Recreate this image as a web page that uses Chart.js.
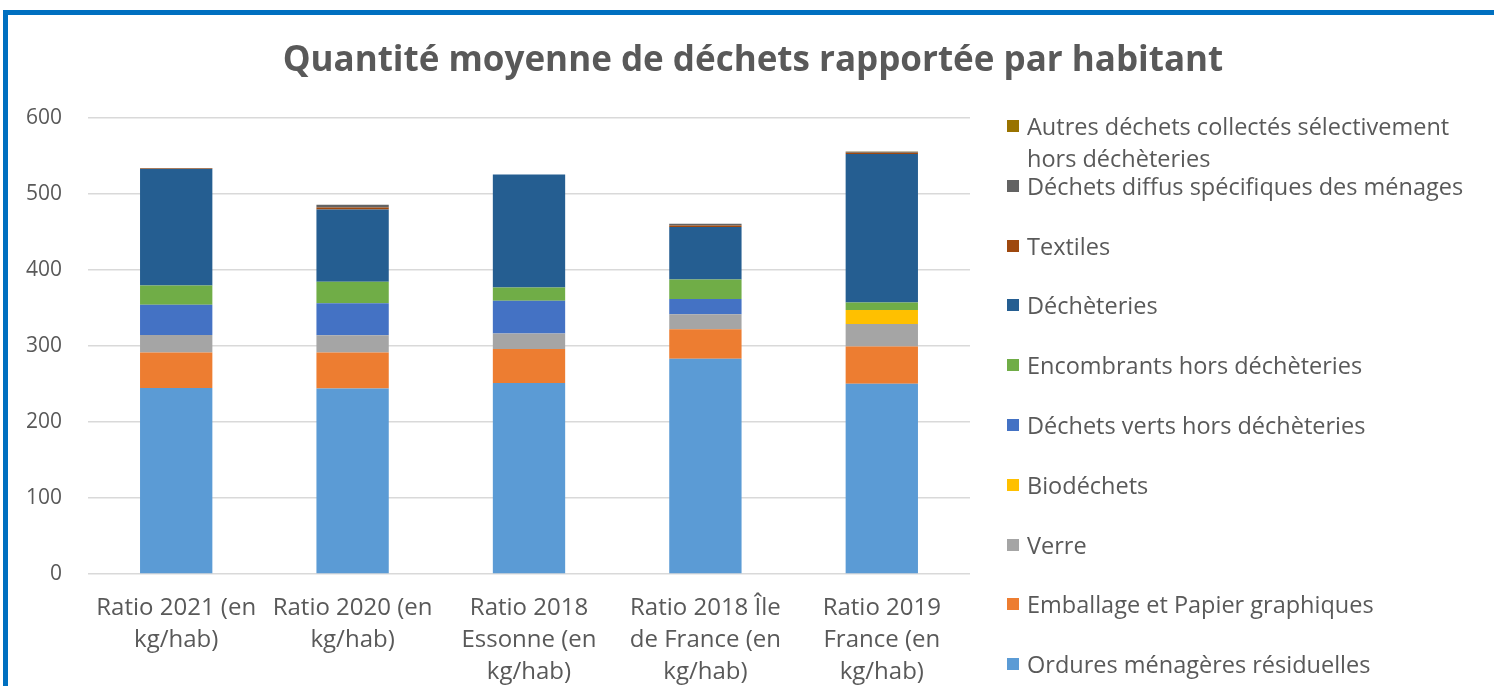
<!DOCTYPE html>
<html>
<head>
<meta charset="utf-8">
<script src="https://cdn.jsdelivr.net/npm/chart.js@4/dist/chart.umd.min.js"></script>
<style>
  html, body { margin:0; padding:0; width:1494px; height:686px; overflow:hidden; background:#fff; }
  #wrap { position:absolute; left:0; top:0; width:1494px; height:686px; }
  #frame { position:absolute; left:3px; top:10px; width:2000px; height:2000px;
           border-left:5px solid #0070C0; border-top:5px solid #0070C0; box-sizing:border-box; pointer-events:none; }
  #title { position:absolute; left:0; width:1506px; top:34px; text-align:center;
           font-family:"Open Sans", Lato, sans-serif; font-weight:bold; font-size:35px; color:#595959; white-space:nowrap; }
  .lg { position:absolute; left:1007px; font-family:"Open Sans", Lato, sans-serif; font-size:23.5px; color:#595959; line-height:32px; white-space:nowrap; }
  .lg .box { position:absolute; left:0; top:10px; width:12px; height:12px; }
  .lg .txt { position:absolute; left:20px; top:0; }
</style>
</head>
<body>
<div id="wrap">
  <canvas id="c" width="1494" height="686"></canvas>
  <div id="title">Quantité moyenne de déchets rapportée par habitant</div>
  <div id="legend"></div>
  <div id="frame"></div>
</div>
<script>
const categories = [
  ["Ratio 2021 (en", "kg/hab)"],
  ["Ratio 2020 (en", "kg/hab)"],
  ["Ratio 2018", "Essonne (en", "kg/hab)"],
  ["Ratio 2018 Île", "de France (en", "kg/hab)"],
  ["Ratio 2019", "France (en", "kg/hab)"]
];
const seriesNames = [
  "Ordures ménagères résiduelles",
  "Emballage et Papier graphiques",
  "Verre",
  "Biodéchets",
  "Déchets verts hors déchèteries",
  "Encombrants hors déchèteries",
  "Déchèteries",
  "Textiles",
  "Déchets diffus spécifiques des ménages",
  ["Autres déchets collectés sélectivement", "hors déchèteries"]
];
const ordures     = [244.7, 244.2, 251.2, 283.1, 250.3];
const emballages  = [46.6, 47.1, 45.0, 38.9, 49.0];
const verre       = [23.2, 22.9, 20.1, 19.7, 29.7];
const biodechets  = [0, 0, 0, 0, 18.3];
const vertsHD     = [39.8, 41.9, 43.2, 20.0, 0];
const encombrants = [25.4, 28.3, 17.6, 25.8, 10.1];
const decheteries = [153.3, 95.3, 148.5, 69.0, 195.3];
const textiles    = [0.5, 2.5, 0, 2.0, 1.5];
const dds         = [0.8, 3.5, 0, 2.4, 1.3];
const autres      = [0, 0, 0, 0, 0.5];
const yTicks = [0, 100, 200, 300, 400, 500, 600];

const seriesValues = [ordures, emballages, verre, biodechets, vertsHD, encombrants, decheteries, textiles, dds, autres];
const colors = ["#5B9BD5", "#ED7D31", "#A5A5A5", "#FFC000", "#4472C4", "#70AD47", "#255E91", "#9E480E", "#636363", "#997300"];

const FONT = "'Open Sans', Lato, sans-serif";

const datasets = seriesValues.map((vals, i) => ({
  label: Array.isArray(seriesNames[i]) ? seriesNames[i].join(" ") : seriesNames[i],
  data: vals,
  backgroundColor: colors[i],
  borderWidth: 0,
  categoryPercentage: 1.0,
  barPercentage: 0.41
}));

new Chart(document.getElementById("c"), {
  type: "bar",
  data: { labels: categories, datasets },
  options: {
    responsive: false,
    animation: false,
    devicePixelRatio: 1,
    layout: { padding: { top: 118, right: 524, left: 0, bottom: 0 } },
    plugins: { legend: { display: false }, title: { display: false }, tooltip: { enabled: false } },
    scales: {
      x: {
        stacked: true,
        grid: { display: false, drawTicks: false },
        border: { display: false },
        ticks: { color: "#595959", font: { family: FONT, size: 24, lineHeight: 1.3333 }, padding: 18, maxRotation: 0, autoSkip: false },
        afterFit: (s) => { s.height = 112; }
      },
      y: {
        stacked: true,
        min: 0, max: 600,
        afterBuildTicks: (s) => { s.ticks = yTicks.map(v => ({ value: v })); },
        grid: { color: "#D9D9D9", lineWidth: 1.5, drawTicks: false },
        border: { display: false },
        ticks: { color: "#595959", font: { family: FONT, size: 21 }, padding: 26 },
        afterFit: (s) => { s.width = 88; }
      }
    }
  }
});

// legend (reverse order, as in the reference)
const legend = document.getElementById("legend");
const legendTop = 110, legendStep = 59.8;
for (let k = 0; k < seriesNames.length; k++) {
  const i = seriesNames.length - 1 - k;
  const name = seriesNames[i];
  const item = document.createElement("div");
  item.className = "lg";
  item.style.top = (legendTop + k * legendStep) + "px";
  const box = document.createElement("div");
  box.className = "box";
  box.style.background = colors[i];
  const txt = document.createElement("div");
  txt.className = "txt";
  txt.innerHTML = (Array.isArray(name) ? name : [name]).join("<br>");
  item.appendChild(box);
  item.appendChild(txt);
  legend.appendChild(item);
}
</script>
</body>
</html>
